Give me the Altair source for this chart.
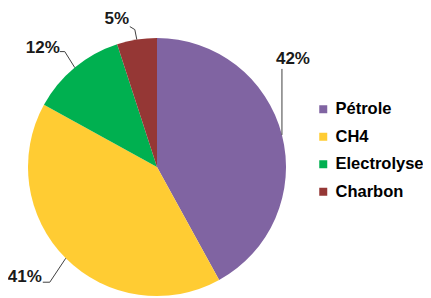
import math
import altair as alt
import pandas as pd

categories = ["Pétrole", "CH4", "Electrolyse", "Charbon"]
shares = [42, 41, 12, 5]
labels = ["42%", "41%", "12%", "5%"]
colors = ["#8064A2", "#FFCC33", "#00B050", "#953735"]

# layout (plot coordinates = page - 8)
W, H = 415, 290
CX, CY, R = 149, 159, 129
label_off = {"Pétrole": (11, -76), "CH4": (-41, 19), "Electrolyse": (-32, -20), "Charbon": (-20, -21)}
leader_pts = {
    "Pétrole": [(0, 0), (0, -66)],
    "CH4": [(0, 0), (-16, 24), (-23, 24)],
    "Electrolyse": [(0, 0), (-10, -16), (-15, -16)],
    "Charbon": [(0, 0), (-2, -10), (-7, -13)],
}

total = sum(shares)
rows, text_rows, line_rows = [], [], []
cum = 0
for i, (c, s, l) in enumerate(zip(categories, shares, labels)):
    mid = (cum + s / 2) / total * 2 * math.pi
    cum += s
    ex = CX + R * math.sin(mid)
    ey = CY - R * math.cos(mid)
    rows.append({"cat": c, "share": s, "order": i})
    ox, oy = label_off[c]
    text_rows.append({"cat": c, "label": l, "tx": ex + ox, "ty": ey + oy})
    for j, (dx, dy) in enumerate(leader_pts[c]):
        line_rows.append({"cat": c, "k": j, "lx": ex + dx, "ly": ey + dy})

df = pd.DataFrame(rows)
tdf = pd.DataFrame(text_rows)
ldf = pd.DataFrame(line_rows)

pie = alt.Chart(df).mark_arc(radius=R).encode(
    theta=alt.Theta("share:Q", stack=True),
    order=alt.Order("order:Q"),
    color=alt.Color(
        "cat:N",
        scale=alt.Scale(domain=categories, range=colors),
        legend=alt.Legend(
            title=None, orient="none", legendX=307, legendY=93,
            symbolType="square", symbolSize=64, symbolStrokeWidth=0,
            labelFont="Liberation Sans", labelFontWeight="bold", labelFontSize=16.5,
            labelColor="#000000", rowPadding=10.5, labelOffset=4, padding=0,
            labelLimit=200,
        ),
    ),
    x=alt.value(CX),
    y=alt.value(CY),
)

lines = alt.Chart(ldf).mark_line(color="#404040", strokeWidth=1).encode(
    x=alt.X("lx:Q", scale=None, axis=None),
    y=alt.Y("ly:Q", scale=None, axis=None),
    detail="cat:N",
    order="k:Q",
)

texts = alt.Chart(tdf).mark_text(
    font="Liberation Sans", fontWeight="bold", fontSize=17, color="#1a1a1a",
    align="center", baseline="middle",
).encode(
    x=alt.X("tx:Q", scale=None, axis=None),
    y=alt.Y("ty:Q", scale=None, axis=None),
    text="label:N",
)

chart = alt.layer(pie, lines, texts).properties(
    width=W, height=H, autosize=alt.AutoSizeParams(type="none"), padding=0,
).configure_view(stroke=None)

chart.save("out.html", embed_options={"renderer": "svg", "actions": False})
